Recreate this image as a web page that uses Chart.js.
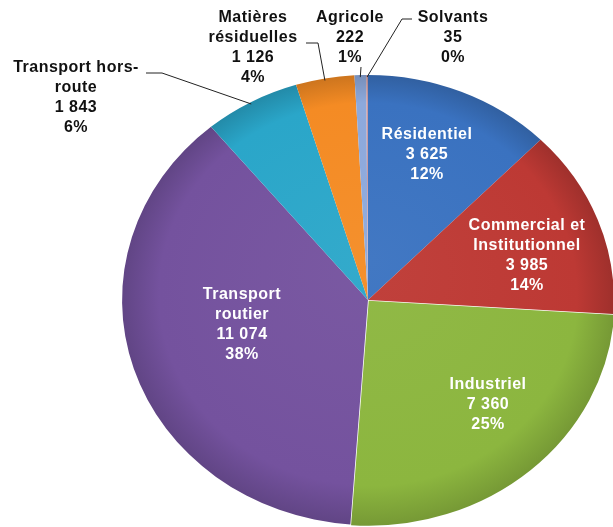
<!DOCTYPE html>
<html>
<head>
<meta charset="utf-8">
<script src="https://cdn.jsdelivr.net/npm/chart.js@4.4.1/dist/chart.umd.min.js"></script>
<style>
  html, body { margin: 0; padding: 0; background: #fff; }
  #wrap { width: 613px; height: 527px; position: relative; }
</style>
</head>
<body>
<div id="wrap"><canvas id="pie"></canvas></div>
<script>
// data
const categories = [
  "Résidentiel",
  "Commercial et Institutionnel",
  "Industriel",
  "Transport routier",
  "Transport hors-route",
  "Matières résiduelles",
  "Agricole",
  "Solvants",
];
const values = [3625, 3985, 7360, 11074, 1843, 1126, 222, 35];
const percents = [12, 14, 25, 38, 6, 4, 1, 0];
const nameLines = [
  ["Résidentiel"],
  ["Commercial et", "Institutionnel"],
  ["Industriel"],
  ["Transport", "routier"],
  ["Transport hors-", "route"],
  ["Matières", "résiduelles"],
  ["Agricole"],
  ["Solvants"],
];

// styling / layout
const colors = ["#3a72c0", "#bd3934", "#8cb63f", "#74529e", "#2aa6c9", "#f48b24", "#8ca9dc", "#c99aa2"];
const stretchX = 1.093; // the original pie is a bit wider than tall
const pieRadius = 225;
const lineH = 20;
// centre x / first line y of each label block
const labelPos = [
  [427, 135], [527, 226], [488, 385], [242, 295],
  [76, 68], [253, 18], [350, 18], [453, 18],
];
const inside = [true, true, true, true, false, false, false, false];
// leader elbows for the outside labels (the end point comes from the arc)
const leaders = {
  4: [[146, 73], [162, 73]],
  5: [[306, 43], [318, 43]],
  6: [[361, 67]],
  7: [[412, 19], [402, 19]],
};

const fmt = (v) => String(v).replace(/\B(?=(\d{3})+(?!\d))/g, " ");

const shade = (hex, f) => {
  const n = parseInt(hex.slice(1), 16);
  const ch = [(n >> 16) & 255, (n >> 8) & 255, n & 255].map((c) =>
    Math.max(0, Math.min(255, Math.round(f > 1 ? c + (255 - c) * (f - 1) : c * f)))
  );
  return `rgb(${ch[0]}, ${ch[1]}, ${ch[2]})`;
};

// squash the pie into an ellipse while the arcs are drawn
const ellipsePlugin = {
  id: "ellipse",
  beforeDatasetsDraw(chart) {
    const arc = chart.getDatasetMeta(0).data[0];
    const c = chart.ctx;
    c.save();
    c.translate(arc.x, arc.y);
    c.scale(stretchX, 1);
    c.translate(-arc.x, -arc.y);
  },
  afterDatasetsDraw(chart) {
    chart.ctx.restore();
  },
};

// data labels and leader lines
const labelPlugin = {
  id: "labels",
  afterDraw(chart) {
    const c = chart.ctx;
    const arcs = chart.getDatasetMeta(0).data;
    c.save();

    // leader lines
    c.strokeStyle = "#222";
    c.lineWidth = 1;
    Object.keys(leaders).forEach((k) => {
      const a = arcs[k];
      const mid = (a.startAngle + a.endAngle) / 2;
      const ex = a.x + Math.cos(mid) * a.outerRadius * stretchX;
      const ey = a.y + Math.sin(mid) * a.outerRadius;
      c.beginPath();
      leaders[k].forEach((p, i) => (i === 0 ? c.moveTo(p[0], p[1]) : c.lineTo(p[0], p[1])));
      c.lineTo(ex, ey + 2);
      c.stroke();
    });

    // text
    c.font = "bold 16px 'Liberation Sans', Arial, sans-serif";
    c.letterSpacing = "0.5px";
    c.textAlign = "center";
    c.textBaseline = "middle";
    categories.forEach((cat, i) => {
      const lines = [...nameLines[i], fmt(values[i]), percents[i] + "%"];
      c.fillStyle = inside[i] ? "#ffffff" : "#111111";
      lines.forEach((t, j) => {
        c.fillText(t, labelPos[i][0], labelPos[i][1] + j * lineH);
      });
    });
    c.restore();
  },
};

const pieChart = new Chart(document.getElementById("pie"), {
  type: "pie",
  data: {
    labels: categories,
    datasets: [
      {
        data: values,
        radius: pieRadius,
        clip: false,
        borderWidth: 0,
        offset: [0, 0, 4, 0, 0, 0, 0, 0],
        backgroundColor: (ctx) => {
          const base = colors[ctx.dataIndex];
          const area = ctx.chart.chartArea;
          if (!area) return base;
          const cx = (area.left + area.right) / 2;
          const cy = (area.top + area.bottom) / 2;
          const g = ctx.chart.ctx.createRadialGradient(cx, cy - 40, 0, cx, cy, pieRadius);
          g.addColorStop(0, shade(base, 1.04));
          g.addColorStop(0.85, base);
          g.addColorStop(1, shade(base, 0.84));
          return g;
        },
      },
    ],
  },
  options: {
    responsive: true,
    maintainAspectRatio: false,
    animation: false,
    layout: { padding: { left: 123, top: 73, right: 0, bottom: 0 } },
    plugins: {
      legend: { display: false },
      tooltip: { enabled: false },
    },
  },
  plugins: [ellipsePlugin, labelPlugin],
});
</script>
</body>
</html>
